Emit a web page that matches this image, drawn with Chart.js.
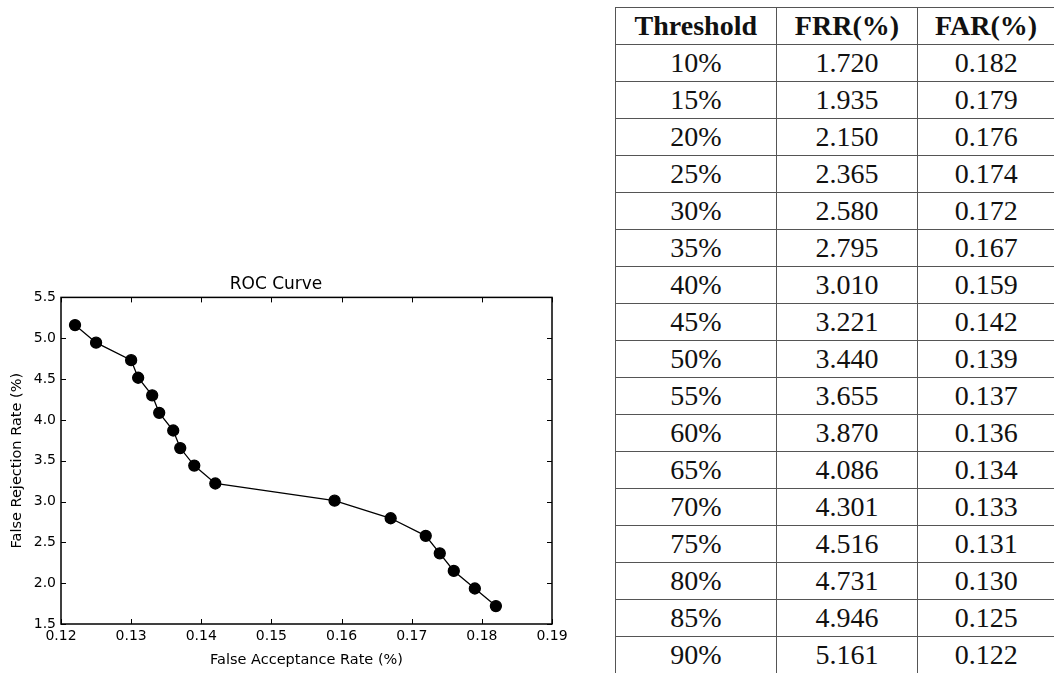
<!DOCTYPE html>
<html lang="en">
<head>
    <meta charset="UTF-8">
    <title>ROC Curve</title>
    <style>
        body {
            margin: 0;
            width: 1054px;
            height: 675px;
            background: white;
            position: relative;
            overflow: hidden;
        }
        #chartBox {
            position: absolute;
            left: 0;
            top: 270px;
            width: 580px;
            height: 405px;
        }
        #rocTable {
            position: absolute;
            left: 615px;
            top: 7px;
            border-collapse: collapse;
            font-family: "Liberation Serif", "Times New Roman", serif;
            font-size: 28px;
            color: #111;
        }
        #rocTable th, #rocTable td {
            border: 1px solid #555;
            text-align: center;
            padding: 0;
            height: 36px;
            line-height: 36px;
        }
        #rocTable th { font-weight: bold; height: 35px; }
        #rocTable tr:last-child td { border-bottom: none; }
        #rocTable th:last-child, #rocTable td:last-child { border-right: none; }
    </style>
    <script src="https://cdn.jsdelivr.net/npm/chart.js"></script>
</head>
<body>
    <div id="chartBox"><canvas id="rocChart"></canvas></div>
    <table id="rocTable"></table>

    <script>
        // values as printed in the table
        const thresholds = ['10%', '15%', '20%', '25%', '30%', '35%', '40%', '45%', '50%',
                            '55%', '60%', '65%', '70%', '75%', '80%', '85%', '90%'];
        const frr = [1.720, 1.935, 2.150, 2.365, 2.580, 2.795, 3.010, 3.221, 3.440,
                     3.655, 3.870, 4.086, 4.301, 4.516, 4.731, 4.946, 5.161];
        const far = [0.182, 0.179, 0.176, 0.174, 0.172, 0.167, 0.159, 0.142, 0.139,
                     0.137, 0.136, 0.134, 0.133, 0.131, 0.130, 0.125, 0.122];
        const headers = ['Threshold', 'FRR(%)', 'FAR(%)'];
        const colWidths = [160, 141, 136];

        // build the table
        const table = document.getElementById('rocTable');
        let html = '<tr>' + headers.map((h, i) => `<th style="width:${colWidths[i]}px">${h}</th>`).join('') + '</tr>';
        thresholds.forEach((t, i) => {
            html += `<tr><td>${t}</td><td>${frr[i].toFixed(3)}</td><td>${far[i].toFixed(3)}</td></tr>`;
        });
        table.innerHTML = html;

        // box + inward ticks, matplotlib classic look
        const frameTicks = {
            id: 'frameTicks',
            afterDraw(chart) {
                const { ctx, chartArea: a, scales } = chart;
                ctx.save();
                ctx.strokeStyle = '#000';
                ctx.lineWidth = 1;
                const len = 5;
                scales.x.ticks.forEach(t => {
                    const px = Math.round(scales.x.getPixelForValue(t.value)) + 0.5;
                    ctx.beginPath();
                    ctx.moveTo(px, a.bottom); ctx.lineTo(px, a.bottom - len);
                    ctx.moveTo(px, a.top); ctx.lineTo(px, a.top + len);
                    ctx.stroke();
                });
                scales.y.ticks.forEach(t => {
                    const py = Math.round(scales.y.getPixelForValue(t.value)) + 0.5;
                    ctx.beginPath();
                    ctx.moveTo(a.left, py); ctx.lineTo(a.left + len, py);
                    ctx.moveTo(a.right, py); ctx.lineTo(a.right - len, py);
                    ctx.stroke();
                });
                ctx.lineWidth = 1.5;
                ctx.strokeRect(a.left, a.top, a.right - a.left, a.bottom - a.top);
                ctx.restore();
            }
        };

        const tickFont = { family: '"DejaVu Sans", sans-serif', size: 14 };

        new Chart(document.getElementById('rocChart'), {
            type: 'scatter',
            data: {
                datasets: [{
                    label: 'ROC',
                    data: far.map((x, i) => ({ x: x, y: frr[i] })),
                    showLine: true,
                    borderColor: '#000',
                    backgroundColor: '#000',
                    borderWidth: 1.3,
                    pointRadius: 5.5,
                    pointHoverRadius: 5.5
                }]
            },
            options: {
                responsive: true,
                maintainAspectRatio: false,
                animation: false,
                layout: { padding: { left: 0, right: 28, top: 4, bottom: 0 } },
                plugins: {
                    legend: { display: false },
                    tooltip: { enabled: false },
                    title: {
                        display: true,
                        text: 'ROC Curve',
                        color: '#000',
                        font: { family: '"DejaVu Sans", sans-serif', size: 17, weight: 'normal' },
                        padding: { top: 0, bottom: 3 }
                    }
                },
                scales: {
                    x: {
                        type: 'linear',
                        min: 0.12,
                        max: 0.19,
                        grid: { display: false, drawTicks: false },
                        border: { display: false },
                        ticks: {
                            stepSize: 0.01,
                            color: '#000',
                            font: tickFont,
                            padding: 4,
                            maxRotation: 0,
                            callback: v => v.toFixed(2)
                        },
                        title: {
                            display: true,
                            text: 'False Acceptance Rate (%)',
                            color: '#000',
                            font: { family: '"DejaVu Sans", sans-serif', size: 14.5 },
                            padding: { top: 2, bottom: 6 }
                        },
                        afterFit: s => { s.height = 51; }
                    },
                    y: {
                        min: 1.5,
                        max: 5.5,
                        grid: { display: false, drawTicks: false },
                        border: { display: false },
                        ticks: {
                            stepSize: 0.5,
                            color: '#000',
                            font: tickFont,
                            padding: 5,
                            callback: v => v.toFixed(1)
                        },
                        title: {
                            display: true,
                            text: 'False Rejection Rate (%)',
                            color: '#000',
                            font: { family: '"DejaVu Sans", sans-serif', size: 14.5 },
                            padding: { top: 9, bottom: 4 }
                        },
                        afterFit: s => { s.width = 61; }
                    }
                }
            },
            plugins: [frameTicks]
        });
    </script>
</body>
</html>
